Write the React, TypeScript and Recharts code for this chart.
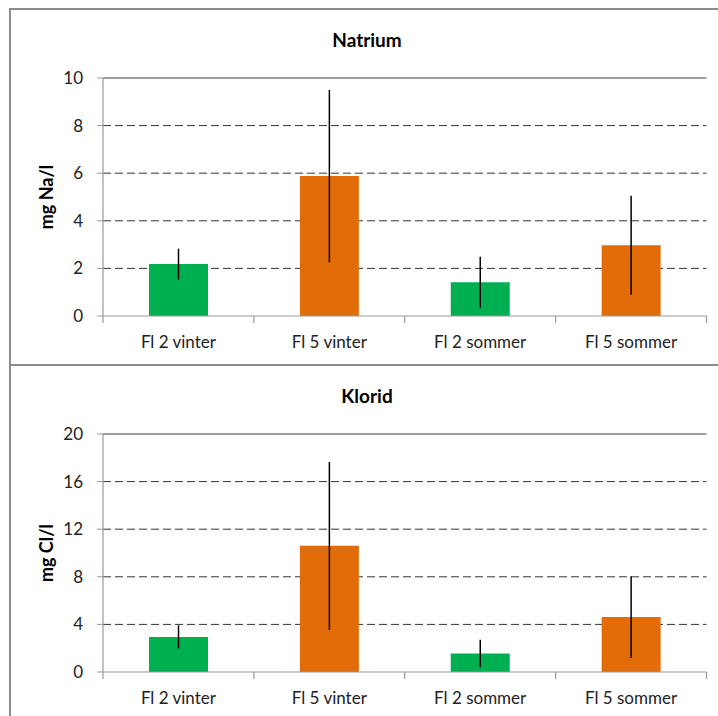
import React from "react";
import {
  Bar,
  BarChart,
  CartesianGrid,
  Cell,
  ErrorBar,
  ReferenceLine,
  XAxis,
  YAxis,
} from "recharts";

const categories = ["Fl 2 vinter", "Fl 5 vinter", "Fl 2 sommer", "Fl 5 sommer"];
const barColors = ["#00B050", "#E36C0A", "#00B050", "#E36C0A"];

const natriumMean = [2.18, 5.88, 1.42, 2.97];
const natriumErr = [0.65, 3.62, 1.07, 2.08];
const natriumTicks = [0, 2, 4, 6, 8, 10];

const kloridMean = [2.95, 10.6, 1.55, 4.62];
const kloridErr = [0.97, 7.05, 1.15, 3.43];
const kloridTicks = [0, 4, 8, 12, 16, 20];

const FONT = "Lato, 'Open Sans', sans-serif";
const CHART_W = 712;
const CHART_H = 354;

// label at band centre, tick marks on the band edges (Excel style)
function CatTick(props: any) {
  const { x, y, payload } = props;
  const half = payload.offset ?? 0;
  const last = payload.index === categories.length - 1;
  return (
    <g>
      <line x1={x - half} x2={x - half} y1={y} y2={y + 7} stroke="#999" strokeWidth={1.2} />
      {last && <line x1={x + half} x2={x + half} y1={y} y2={y + 7} stroke="#999" strokeWidth={1.2} />}
      <text x={x} y={y + 26} dy="0.355em" textAnchor="middle" fill="#222" fontSize={17} fontFamily={FONT}>
        {payload.value}
      </text>
    </g>
  );
}

type PanelProps = {
  title: string;
  unit: string;
  means: number[];
  errs: number[];
  ticks: number[];
};

function Panel({ title, unit, means, errs, ticks }: PanelProps) {
  const data = categories.map((name, i) => ({ name, value: means[i], err: errs[i] }));
  const top = ticks[ticks.length - 1];
  return (
    <div style={{ position: "relative", width: CHART_W, height: CHART_H }}>
      <div
        style={{
          position: "absolute",
          left: 0,
          top: 18,
          width: CHART_W,
          textAlign: "center",
          fontFamily: FONT,
          fontWeight: 700,
          fontSize: 19,
          lineHeight: "24px",
          color: "#000",
        }}
      >
        {title}
      </div>
      <BarChart
        width={CHART_W}
        height={CHART_H}
        data={data}
        margin={{ top: 68, right: 16.5, bottom: 0, left: 0 }}
      >
        <CartesianGrid
          vertical={false}
          horizontalValues={ticks.slice(1, -1)}
          stroke="#333"
          strokeDasharray="8 4"
        />
        <XAxis
          dataKey="name"
          interval={0}
          height={48}
          tickSize={0}
          tickMargin={0}
          tickLine={false}
          axisLine={{ stroke: "#999", strokeWidth: 1.2 }}
          tick={<CatTick />}
        />
        <YAxis
          domain={[0, top]}
          ticks={ticks}
          allowDataOverflow
          width={92}
          tickSize={6}
          tickMargin={14}
          axisLine={{ stroke: "#999", strokeWidth: 1.2 }}
          tickLine={{ stroke: "#999" }}
          tick={{ fill: "#222", fontSize: 17, fontFamily: FONT }}
          label={{
            value: unit,
            angle: -90,
            position: "center",
            dx: -10,
            fill: "#000",
            fontSize: 18,
            fontWeight: 700,
            fontFamily: FONT,
          }}
        />
        <YAxis
          yAxisId="edge"
          orientation="right"
          width={0}
          domain={[0, top]}
          tick={false}
          tickLine={false}
          axisLine={{ stroke: "#999", strokeWidth: 1.2 }}
        />
        <ReferenceLine y={top} stroke="#404040" strokeWidth={1.2} ifOverflow="visible" />
        <Bar dataKey="value" barSize={59} isAnimationActive={false}>
          {data.map((d, i) => (
            <Cell key={d.name} fill={barColors[i]} />
          ))}
          <ErrorBar
            dataKey="err"
            direction="y"
            width={0}
            stroke="#000"
            strokeWidth={1.5}
            isAnimationActive={false}
          />
        </Bar>
      </BarChart>
    </div>
  );
}

export default function App() {
  return (
    <div
      style={{
        position: "absolute",
        left: 9,
        top: 8,
        width: 740,
        height: 800,
        border: "2px solid #8c8c8c",
        background: "#fff",
      }}
    >
      <Panel title="Natrium" unit="mg Na/l" means={natriumMean} errs={natriumErr} ticks={natriumTicks} />
      <div style={{ borderTop: "2px solid #8c8c8c" }}>
        <Panel title="Klorid" unit="mg Cl/l" means={kloridMean} errs={kloridErr} ticks={kloridTicks} />
      </div>
    </div>
  );
}
